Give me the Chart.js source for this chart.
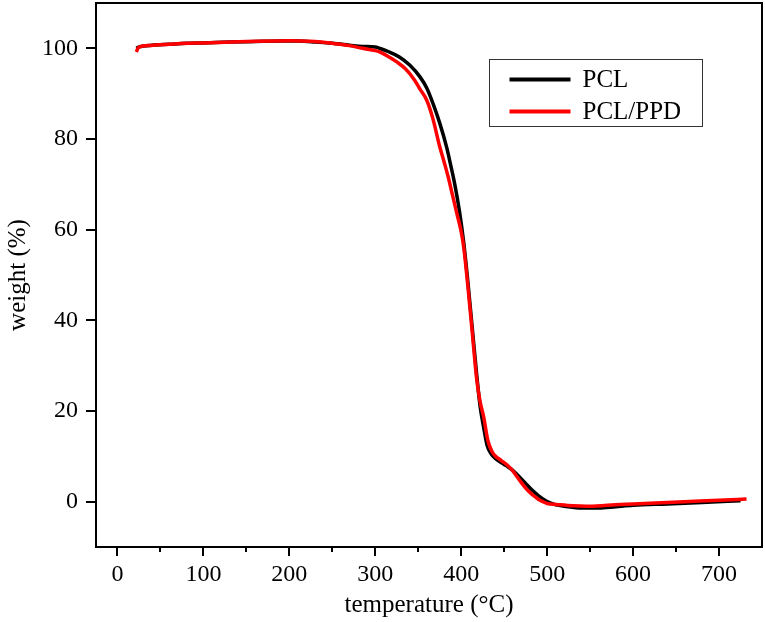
<!DOCTYPE html>
<html>
<head>
<meta charset="utf-8">
<script src="https://cdn.jsdelivr.net/npm/chart.js@4.4.0/dist/chart.umd.min.js"></script>
<style>
  html, body { margin: 0; padding: 0; background: #fff; }
  #wrap { width: 765px; height: 622px; }
</style>
</head>
<body>
<div id="wrap"><canvas id="chart-tga" width="765" height="622"></canvas></div>
<script>
// Datos (TGA)
const tempPCL = [22, 25, 30, 40, 60, 80, 100, 130, 160, 190, 210, 230, 250, 270, 285, 300, 305, 315, 328, 340, 352, 360, 367, 375, 383, 388, 392.5, 398, 403, 408, 413, 418, 422, 426, 430, 435, 440, 445, 450, 455, 460, 465, 470, 475, 480, 485, 490, 495, 500, 505, 510, 520, 540, 560, 580, 600, 640, 680, 725];
const weightPCL = [100.0, 100.3, 100.5, 100.7, 100.9, 101.1, 101.2, 101.4, 101.5, 101.6, 101.6, 101.4, 101.1, 100.7, 100.4, 100.3, 100.0, 99.3, 98.1, 96.3, 93.7, 91.2, 87.9, 83.5, 78.2, 74.0, 70.0, 64.0, 57.0, 48.0, 38.0, 28.0, 21.0, 16.5, 12.5, 10.5, 9.5, 8.8, 8.2, 7.6, 6.9, 6.0, 5.0, 4.0, 3.0, 2.1, 1.3, 0.6, 0.0, -0.4, -0.7, -1.0, -1.4, -1.4, -1.1, -0.8, -0.5, -0.2, 0.2];

const tempPPD = [22, 24, 27, 35, 60, 100, 150, 200, 230, 250, 270, 285, 300, 305, 315, 325, 335, 345, 352, 360, 367, 375, 380, 385, 390, 395, 400, 403, 408, 413, 418, 422, 426, 431, 436, 440, 445, 450, 455, 460, 465, 470, 475, 480, 485, 490, 495, 500, 511, 530, 546, 570, 600, 660, 700, 732];
const weightPPD = [99.2, 100.1, 100.4, 100.6, 100.9, 101.2, 101.5, 101.7, 101.5, 101.1, 100.6, 100.0, 99.5, 99.2, 98.2, 97.0, 95.5, 93.2, 91.0, 88.5, 84.5, 78.3, 75.0, 71.5, 67.5, 63.5, 59.5, 56.0, 47.0, 37.0, 27.0, 22.0, 18.8, 13.5, 11.0, 10.0, 9.3, 8.6, 7.8, 6.8, 5.5, 4.2, 3.0, 2.0, 1.2, 0.5, 0.0, -0.4, -0.6, -0.9, -1.0, -0.8, -0.5, 0.0, 0.3, 0.6];

const xTicks = [0, 50, 100, 150, 200, 250, 300, 350, 400, 450, 500, 550, 600, 650, 700];
const yTicks = [0, 20, 40, 60, 80, 100];
const seriesNames = ['PCL', 'PCL/PPD'];
const seriesColors = ['#000000', '#ff0000'];

const fuente = 'Liberation Serif, Times New Roman, serif';

// Marco, marcas de los ejes y leyenda
const marcoPlugin = {
  id: 'marco',
  afterDraw(chart) {
    const { ctx, chartArea: a, scales } = chart;
    ctx.save();
    ctx.strokeStyle = '#000';
    ctx.lineWidth = 2;
    ctx.strokeRect(a.left, a.top, a.right - a.left, a.bottom - a.top);

    scales.x.ticks.forEach(t => {
      const px = Math.round(scales.x.getPixelForValue(t.value));
      const len = t.value % 100 === 0 ? 9 : 5;
      ctx.beginPath();
      ctx.moveTo(px, a.bottom);
      ctx.lineTo(px, a.bottom + len);
      ctx.stroke();
    });
    scales.y.ticks.forEach(t => {
      const py = Math.round(scales.y.getPixelForValue(t.value));
      ctx.beginPath();
      ctx.moveTo(a.left, py);
      ctx.lineTo(a.left - 10, py);
      ctx.stroke();
    });

    // leyenda
    const bx = 489.5, by = 59.5, bw = 213, bh = 67;
    ctx.lineWidth = 1;
    ctx.strokeStyle = '#333';
    ctx.strokeRect(bx, by, bw, bh);
    ctx.font = '25px ' + fuente;
    ctx.textBaseline = 'middle';
    ctx.textAlign = 'left';
    chart.data.datasets.forEach((ds, i) => {
      const ly = by + 20 + i * 32;
      ctx.strokeStyle = ds.borderColor;
      ctx.lineWidth = 4;
      ctx.beginPath();
      ctx.moveTo(bx + 20, ly);
      ctx.lineTo(bx + 81, ly);
      ctx.stroke();
      ctx.fillStyle = '#000';
      ctx.fillText(ds.label, bx + 93, ly + 1);
    });
    ctx.restore();
  }
};

function crearGrafico() {
  const ctx = document.getElementById('chart-tga');
  new Chart(ctx, {
    type: 'line',
    data: {
      datasets: [
        {
          label: seriesNames[0],
          data: tempPCL.map((t, i) => ({ x: t, y: weightPCL[i] })),
          borderColor: seriesColors[0],
          borderWidth: 3.5,
          pointRadius: 0,
          cubicInterpolationMode: 'monotone',
          order: 1
        },
        {
          label: seriesNames[1],
          data: tempPPD.map((t, i) => ({ x: t, y: weightPPD[i] })),
          borderColor: seriesColors[1],
          borderWidth: 3.5,
          pointRadius: 0,
          cubicInterpolationMode: 'monotone',
          order: 0
        }
      ]
    },
    options: {
      responsive: false,
      animation: false,
      layout: { padding: { left: 0, top: 3, right: 3, bottom: 0 } },
      plugins: {
        legend: { display: false },
        tooltip: { enabled: false }
      },
      scales: {
        x: {
          type: 'linear',
          min: -25,
          max: 750,
          afterBuildTicks: s => { s.ticks = xTicks.map(v => ({ value: v })); },
          afterFit: s => { s.height = 75; s.paddingLeft = 0; s.paddingRight = 0; },
          grid: { display: false, drawTicks: false },
          border: { display: false },
          ticks: {
            color: '#000',
            padding: 13,
            maxRotation: 0,
            autoSkip: false,
            font: { family: fuente, size: 24 },
            callback: v => (v % 100 === 0 ? v : '')
          },
          title: {
            display: true,
            text: 'temperature (°C)',
            color: '#000',
            font: { family: fuente, size: 25, lineHeight: 1 },
            padding: { top: 0, bottom: 4 }
          }
        },
        y: {
          min: -10,
          max: 110,
          afterBuildTicks: s => { s.ticks = yTicks.map(v => ({ value: v })); },
          afterFit: s => { s.width = 96; s.paddingTop = 0; s.paddingBottom = 0; },
          grid: { display: false, drawTicks: false },
          border: { display: false },
          ticks: {
            color: '#000',
            padding: 18,
            font: { family: fuente, size: 24 }
          },
          title: {
            display: true,
            text: 'weight (%)',
            color: '#000',
            font: { family: fuente, size: 25, lineHeight: 1 },
            padding: { top: 6, bottom: 0 }
          }
        }
      }
    },
    plugins: [marcoPlugin]
  });
}

document.addEventListener('DOMContentLoaded', crearGrafico);
</script>
</body>
</html>
